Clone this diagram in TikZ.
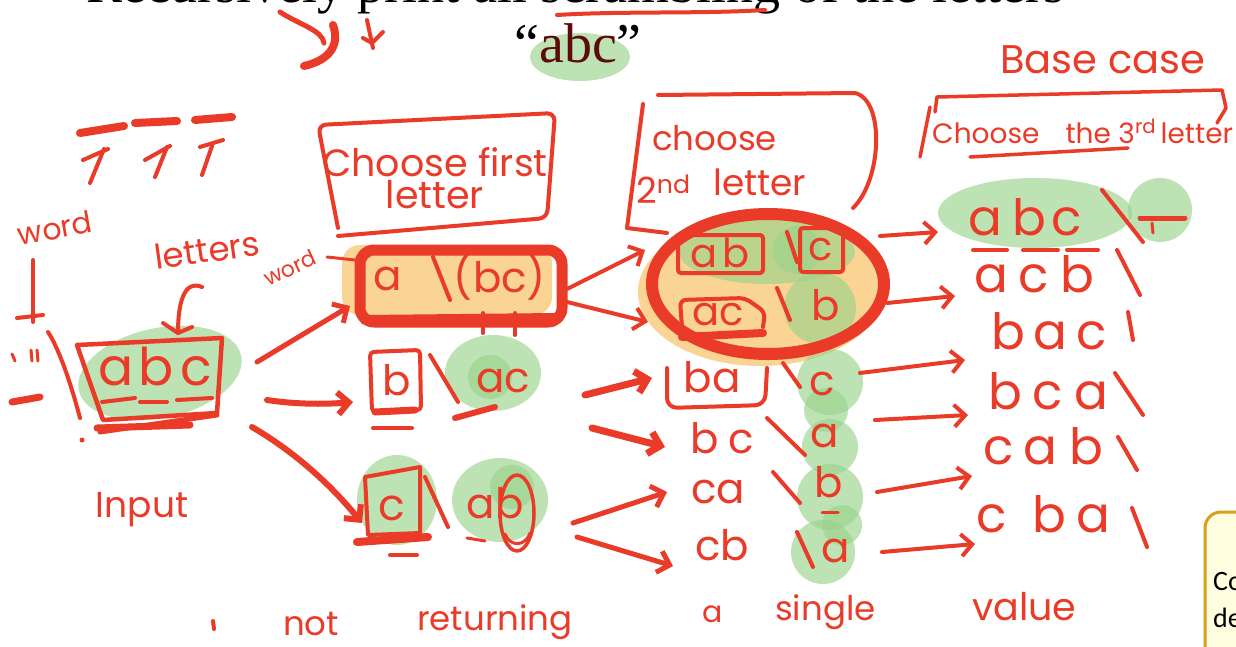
\documentclass[tikz,border=0pt]{standalone}
\usepackage{fontspec}
\setmainfont{Liberation Serif}
\newfontfamily\hand{Poppins}
\newfontfamily\notefont{Carlito}
\usetikzlibrary{arrows.meta,calc}
\definecolor{ink}{HTML}{EA3A28}
\definecolor{hl}{HTML}{9BD38C}
\definecolor{org}{HTML}{FAD493}
\definecolor{dred}{HTML}{5C0A0A}
\definecolor{note}{HTML}{FFFFE0}
\definecolor{gold}{HTML}{D6A21E}
\tikzset{
  hw/.style={text=ink, font=\hand\fontsize{#1}{#1}\selectfont, inner sep=0pt},
  hw/.default=44,
  pen/.style={draw=ink, line width=#1, line cap=round, line join=round},
  pen/.default=4pt,
  tip/.style={-{Straight Barb[length=11pt,width=22pt]}},
  glow/.style={fill=hl, fill opacity=0.65},
}
\begin{document}
\begin{tikzpicture}[x=1pt,y=-1pt]
\useasboundingbox (0,0) rectangle (1236,646);
\fill[white] (0,0) rectangle (1236,646);

% ---------- highlights ----------
\fill[glow] (580,57) ellipse [x radius=50pt, y radius=24pt];
\fill[glow, rotate around={12:(160,373)}] (160,373) ellipse [x radius=83pt, y radius=45pt];
\fill[org, rounded corners=18pt] (342,245) rectangle (552,315);
\fill[glow] (493,373) ellipse [x radius=48pt, y radius=38pt];
\fill[glow] (490,377) circle [radius=22pt];
\fill[glow] (397,500) ellipse [x radius=40pt, y radius=45pt];
\fill[glow] (500,500) ellipse [x radius=48pt, y radius=42pt];
\fill[glow] (512,487) circle [radius=22pt];
\fill[org] (760,292) ellipse [x radius=122pt, y radius=74pt];
\fill[glow] (767,252) ellipse [x radius=88pt, y radius=32pt];
\fill[glow] (797,250) circle [radius=24pt];
\fill[glow] (820,308) circle [radius=36pt];
\foreach \cx/\cy/\r in {830/382/33, 826/410/22, 830/447/28, 830/497/33, 842/525/20, 823/552/32}
  \fill[glow] (\cx,\cy) circle [radius=\r pt];
\fill[glow] (1035,213) ellipse [x radius=97pt, y radius=35pt];
\fill[glow] (1160,210) circle [radius=32pt];

% ---------- title ----------
\node[anchor=base, font=\fontsize{54}{54}\selectfont, inner sep=0pt] (title) at (575,2)
  {Recursively print all scrambling of the letters};
\node[anchor=base, font=\fontsize{56}{56}\selectfont, inner sep=0pt] (qabc) at (578,62)
  {“\textcolor{dred}{abc}”};
\draw[pen=5pt] (280,12) .. controls (300,25) and (322,30) .. (324,43);
\draw[pen=8pt] (333,25) .. controls (340,45) and (330,60) .. (304,66);
\draw[pen] (367,20) -- (373,48);
\draw[pen] (363,38) -- (372,43) -- (383,32);
\draw[pen] (557,15) .. controls (620,11) and (700,14) .. (765,10);

% ---------- base case ----------
\node[hw=40, anchor=base west] (base) at (1000,73) {Base case};
\draw[pen=3.5pt] (935,112) -- (937,97) -- (1222,90) -- (1226,108) -- (1217,123);
\draw[pen=3.5pt] (930,107) -- (920,157);
\node[hw=28, anchor=base west] (third) at (932,143) {Choose\hspace{26pt}the 3\textsuperscript{rd}\,letter};
\draw[pen=3.5pt] (970,157) -- (1128,148);

% ---------- top-left marks ----------
\draw[pen=8pt] (80,133) -- (124,126);
\draw[pen=8pt] (135,123) -- (177,121);
\draw[pen=8pt] (195,120) -- (232,117);
\draw[pen] (90,183) -- (104,149);
\draw[pen] (83,160) -- (108,149);
\draw[pen] (155,177) -- (167,147);
\draw[pen] (145,160) -- (170,146);
\draw[pen] (202,175) -- (212,146);
\draw[pen] (200,147) -- (223,140);

% ---------- left: word / input ----------
\node[hw=30, rotate=10] (wordlbl) at (55,228) {word};
\draw[pen] (33,260) -- (33,322);
\draw[pen] (17,318) -- (43,315);
\draw[pen=3pt] (12,354) -- (15,361);
\draw[pen=3pt] (31,350) -- (32,361);
\draw[pen=3pt] (37,350) -- (38,361);
\draw[pen=7pt] (12,402) -- (40,397);
\draw[pen] (48,332) .. controls (58,347) and (70,380) .. (80,418);
\fill[ink] (82,440) circle [radius=2.5pt];

\draw[pen=4.5pt] (77,345) -- (222,338) -- (217,413) -- (103,420) -- cycle;
\draw[pen=7pt] (97,428) -- (190,425);
\draw[pen=5pt] (100,432) -- (217,415);
\node[hw=52, anchor=base] (inp) at (155,385) {a\hspace{5pt}b\hspace{7pt}c};
\draw[pen] (102,402) -- (135,398);
\draw[pen] (140,402) -- (167,402);
\draw[pen] (177,400) -- (212,398);

\node[hw=34, rotate=8] (letters) at (207,250) {letters};
\coordinate (lt0) at (202,287);
\coordinate (lt1) at (178,333);
\draw[pen] (lt0) .. controls (185,280) and (178,300) .. (lt1);
\draw[pen] (163,323) -- (lt1) -- (192,327);

\node[hw=36] (input) at (142,510) {Input};

% ---------- choose first letter ----------
\draw[pen, rounded corners=8pt] (338,228) -- (318,125) -- (555,113) -- (547,218) -- (338,236);
\node[hw=38, align=center] (cf) at (435,178) {Choose first\\[-6pt]letter};

% row 1
\draw[pen=11pt, rounded corners=14pt] (360,250) rectangle (562,322);
\draw[pen=10pt] (365,320) -- (555,318);
\node[hw=42, anchor=base] (r1a) at (388,290) {a};
\draw[pen] (433,257) -- (450,300);
\node[hw=42, anchor=base] (r1bc) at (500,292) {(bc)};
\draw[pen] (483,313) -- (483,333);
\draw[pen] (515,313) -- (515,335);
\node[hw=22, rotate=25] (word2) at (290,268) {word};
\draw[pen=3pt] (327,257) -- (355,260);

% row 2
\draw[pen, rounded corners=4pt] (372,412) -- (370,352) -- (420,350) -- (421,410) -- cycle;
\draw[pen=7pt] (375,412) -- (415,410);
\draw[pen] (373,428) -- (412,428);
\node[hw=42, anchor=base] (r2b) at (397,395) {b};
\draw[pen] (430,355) -- (458,402);
\node[hw=42, anchor=base] (r2ac) at (503,392) {ac};
\draw[pen=6pt] (455,418) -- (495,407);

% row 3
\draw[pen] (365,477) -- (420,467) -- (420,533) -- (368,535) -- cycle;
\draw[pen=8pt] (357,542) -- (428,537);
\draw[pen] (390,555) -- (417,555);
\node[hw=44, anchor=base] (r3c) at (392,520) {c};
\draw[pen] (425,477) -- (448,527);
\node[hw=42, anchor=base] (r3ab) at (495,518) {ab};
\draw[pen=3.5pt] (517,513) ellipse [x radius=17pt, y radius=38pt];
\draw[pen=3pt] (467,538) -- (485,541);
\draw[pen=3pt] (505,534) .. controls (510,547) and (525,547) .. (530,533);

% arrows from input
\coordinate (i1s) at (257,362); \coordinate (i1e) at (350,306);
\coordinate (i2s) at (267,400); \coordinate (i2e) at (353,402);
\coordinate (i3s) at (252,427); \coordinate (i3e) at (362,523);
\draw[pen=5pt, tip] (i1s) -- (i1e);
\draw[pen=6pt, tip] (i2s) .. controls (300,405) and (330,404) .. (i2e);
\draw[pen=6pt, tip] (i3s) .. controls (300,455) and (335,490) .. (i3e);

% ---------- choose 2nd letter ----------
\draw[pen] (643,104) -- (627,228) -- (667,233);
\draw[pen] (658,95) -- (855,93) .. controls (885,100) and (882,180) .. (853,208);
\node[hw=34, anchor=base west] (c2a) at (652,150) {choose};
\node[hw=36, anchor=base west] (c2b) at (636,203) {2\textsuperscript{nd}};
\node[hw=36, anchor=base west] (c2c) at (713,195) {letter};

\draw[ink, line width=12pt] (768,284) ellipse [x radius=116pt, y radius=70pt];
\draw[pen, rounded corners=3pt] (678,235) rectangle (763,273);
\node[hw=40, anchor=base] (e1ab) at (720,267) {a\hspace{4pt}b};
\draw[pen] (787,232) -- (797,262);
\draw[pen, rounded corners=3pt] (800,228) rectangle (843,272);
\node[hw=40] (e1c) at (821,250) {c};
\draw[pen, rounded corners=6pt] (682,327) -- (680,300) -- (745,298) -- (765,312) -- (763,327);
\node[hw=40, anchor=base] (e2ac) at (718,325) {ac};
\draw[pen] (777,288) -- (790,320);
\node[hw=42] (e2b) at (826,305) {b};
\draw[pen=8pt] (682,337) -- (763,333);

% row1 -> ellipse
\coordinate (a1s) at (565,290); \coordinate (a1e) at (645,250);
\coordinate (a2s) at (567,302); \coordinate (a2e) at (648,322);
\draw[pen, tip] (a1s) -- (a1e);
\draw[pen, tip] (a2s) -- (a2e);

% ---------- column 3 ----------
\draw[pen, rounded corners=10pt] (667,368) -- (667,408) -- (765,405) -- (767,368);
\node[hw=42, anchor=base] (c3a) at (712,392) {ba};
\draw[pen] (783,363) -- (800,387);
\node[hw=42] (c3a2) at (822,384) {c};
\node[hw=42, anchor=base] (c3b) at (722,453) {b\hspace{10pt}c};
\draw[pen] (767,418) -- (805,455);
\node[hw=42, anchor=base] (c3b2) at (825,447) {a};
\node[hw=42, anchor=base] (c3c) at (718,503) {ca};
\draw[pen] (773,472) -- (800,503);
\node[hw=42, anchor=base] (c3c2) at (829,497) {b};
\draw[pen=3pt] (822,512) -- (838,512);
\node[hw=42, anchor=base] (c3d) at (722,560) {cb};
\draw[pen] (797,532) -- (813,567);
\node[hw=42, anchor=base] (c3d2) at (836,562) {a};

\coordinate (b1s) at (585,395); \coordinate (b1e) at (652,378);
\coordinate (b2s) at (592,428); \coordinate (b2e) at (665,447);
\coordinate (b3s) at (573,523); \coordinate (b3e) at (667,492);
\coordinate (b4s) at (577,537); \coordinate (b4e) at (673,566);
\draw[pen=7pt, tip] (b1s) -- (b1e);
\draw[pen=7pt, tip] (b2s) -- (b2e);
\draw[pen=5pt, tip] (b3s) -- (b3e);
\draw[pen=5pt, tip] (b4s) -- (b4e);

% ---------- final column ----------
\node[hw=50, anchor=base west] (f1) at (968,235) {a\hspace{10pt}b\hspace{6pt}c};
\draw[pen] (973,250) -- (1007,250);
\draw[pen] (1023,250) -- (1058,250);
\draw[pen] (1067,250) -- (1098,250);
\draw[pen] (1102,190) -- (1143,242);
\draw[pen=5pt] (1140,218) -- (1185,218);
\draw[pen=3pt] (1152,223) -- (1153,233);
\node[hw=50, anchor=base west] (f2) at (974,292) {a\hspace{10pt}c\hspace{12pt}b};
\draw[pen] (1117,250) -- (1140,295);
\node[hw=50, anchor=base west] (f3) at (991,349) {b\hspace{8pt}a\hspace{10pt}c};
\draw[pen] (1128,312) -- (1133,340);
\node[hw=50, anchor=base west] (f4) at (988,409) {b\hspace{10pt}c\hspace{12pt}a};
\draw[pen] (1115,373) -- (1143,415);
\node[hw=50, anchor=base west] (f5) at (983,464) {c\hspace{10pt}a\hspace{12pt}b};
\draw[pen] (1118,437) -- (1137,470);
\node[hw=50, anchor=base west] (f6) at (976,532) {c\hspace{26pt}b\hspace{10pt}a};
\draw[pen] (1132,508) -- (1147,547);

\coordinate (d1s) at (880,236); \coordinate (d1e) at (938,232);
\coordinate (d2s) at (887,303); \coordinate (d2e) at (955,296);
\coordinate (d3s) at (860,373); \coordinate (d3e) at (965,360);
\coordinate (d4s) at (875,420); \coordinate (d4e) at (968,415);
\coordinate (d5s) at (877,492); \coordinate (d5e) at (972,476);
\coordinate (d6s) at (882,552); \coordinate (d6e) at (975,544);
\foreach \k in {1,...,6} \draw[pen, tip] (d\k s) -- (d\k e);

% ---------- bottom line ----------
\draw[pen] (213,621) -- (214,629);
\node[hw=34, anchor=base west] (b1) at (283,635) {not};
\node[hw=34, anchor=base west] (b2) at (417,630) {returning};
\node[hw=30, anchor=base west] (b3) at (702,622) {a};
\node[hw=34, anchor=base west] (b4) at (775,620) {single};
\node[hw=38, anchor=base west] (b5) at (972,620) {value};

% ---------- note box ----------
\draw[gold, line width=3pt, fill=note, rounded corners=16pt] (1205,512) rectangle (1270,680);
\node[anchor=base west, font=\notefont\fontsize{28}{28}\selectfont, inner sep=0pt] (n1) at (1213,590) {Co};
\node[anchor=base west, font=\notefont\fontsize{28}{28}\selectfont, inner sep=0pt] (n2) at (1213,627) {de};
\end{tikzpicture}
\end{document}
